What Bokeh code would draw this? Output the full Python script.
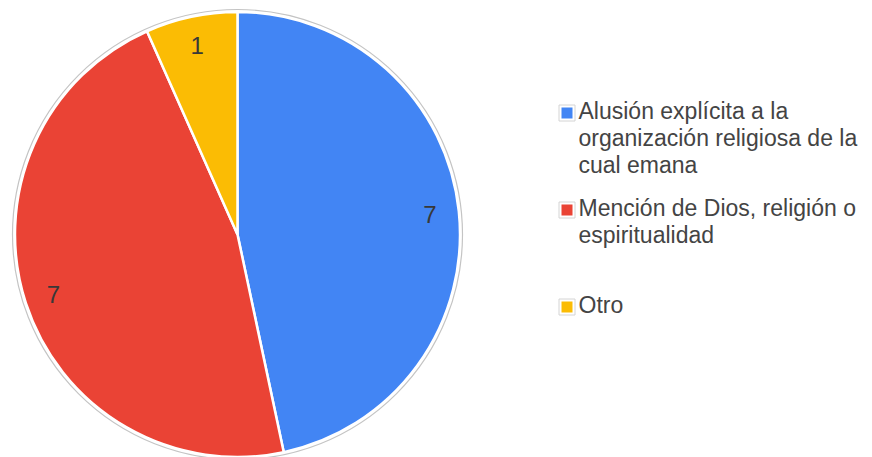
import math
import textwrap
from bokeh.plotting import figure
from bokeh.models import Range1d, ColumnDataSource
from bokeh.core.properties import value
from bokeh.embed import file_html
from bokeh.resources import INLINE

# ---- data ----
categories = [
    "Alusión explícita a la organización religiosa de la cual emana",
    "Mención de Dios, religión o espiritualidad",
    "Otro",
]
counts = [7, 7, 1]
colors = ["#4285F4", "#EA4335", "#FBBC04"]

# ---- layout (pixel units) ----
W, H = 872, 457
cx, cy, R = 237, 223, 222.5
label_frac = 0.87
FONT = "Liberation Sans"

p = figure(width=W, height=H, x_range=Range1d(0, W), y_range=Range1d(0, H),
           output_backend="svg", toolbar_location=None, min_border=0)
p.axis.visible = False
p.grid.visible = False
p.outline_line_color = None
p.background_fill_color = "white"
p.border_fill_color = "white"

total = sum(counts)
starts, ends, mids = [], [], []
cum = 0
for c in counts:
    a0 = math.pi / 2 - 2 * math.pi * cum / total
    cum += c
    a1 = math.pi / 2 - 2 * math.pi * cum / total
    starts.append(a0)
    ends.append(a1)
    mids.append((a0 + a1) / 2)

src = ColumnDataSource(dict(start=starts, end=ends, color=colors,
                            x=[cx] * len(counts), y=[cy] * len(counts)))

# faint outline around the pie
p.circle(x=[cx], y=[cy], radius=R + 2.5, fill_color=None,
         line_color="#c4c4c4", line_width=1.2)
p.wedge(x="x", y="y", radius=R, start_angle="start", end_angle="end",
        direction="clock", fill_color="color", line_color="white",
        line_width=2.5, source=src)

# slice labels
lx = [cx + label_frac * R * math.cos(m) for m in mids]
ly = [cy + label_frac * R * math.sin(m) for m in mids]
p.text(x=lx, y=ly, text=[str(c) for c in counts], text_align="center",
       text_baseline="middle", text_font=value(FONT), text_font_size="24px",
       text_color="#383838")

# legend
leg_sq_x = 566.5
leg_y0 = 344.5
leg_step = 97
leg_text_x = 578
line_h = 27
for i, (cat, col) in enumerate(zip(categories, colors)):
    sy = leg_y0 - i * leg_step
    p.rect(x=[leg_sq_x], y=[sy], width=16, height=16, fill_color="white",
           line_color="#d4d4d4", line_width=1)
    p.rect(x=[leg_sq_x], y=[sy], width=11, height=11, fill_color=col,
           line_color=None)
    lines = textwrap.wrap(cat, width=29)
    p.text(x=[leg_text_x] * len(lines),
           y=[sy + 2 - k * line_h for k in range(len(lines))],
           text=lines, text_align="left", text_baseline="alphabetic",
           text_font=value(FONT), text_font_size="23px", text_color="#444444")

open("out.html", "w").write(file_html(p, INLINE))
